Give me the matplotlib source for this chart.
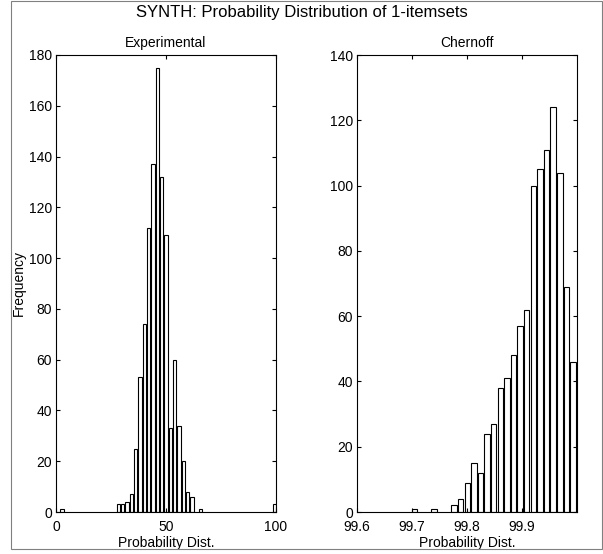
import matplotlib
matplotlib.use('Agg')
import matplotlib.pyplot as plt
from matplotlib.patches import Rectangle

plt.rcParams['font.family'] = ['Liberation Sans', 'DejaVu Sans']
plt.rcParams['font.size'] = 10

# Experimental histogram (only non-empty bins)
exp_centers = [2.70, 28.31, 30.28, 32.25, 34.22, 36.19, 38.16, 40.13, 42.10,
               44.07, 46.04, 48.01, 49.98, 51.95, 53.92, 55.89, 57.86, 59.83,
               61.80, 65.74, 99.23]
exp_counts = [1, 3, 3, 4, 7, 25, 53, 74, 112, 137, 175, 132, 109, 33, 60, 34,
              20, 8, 6, 1, 3]
exp_binwidth = 1.97

# Chernoff histogram (only non-empty bins)
che_centers = [99.7043, 99.7404, 99.7764, 99.7884, 99.8005, 99.8125, 99.8245,
               99.8365, 99.8485, 99.8606, 99.8726, 99.8846, 99.8966, 99.9086,
               99.9207, 99.9327, 99.9447, 99.9567, 99.9687, 99.9808, 99.9928]
che_counts = [1, 1, 2, 4, 9, 15, 12, 24, 27, 38, 41, 48, 57, 62, 100, 105,
              111, 124, 104, 69, 46]
che_binwidth = 0.01202

fig = plt.figure(figsize=(6.03, 5.54), dpi=100)

# grey frame round the figure
fig.patches.append(Rectangle((11 / 603, 5 / 554), 591 / 603, 548 / 554,
                             transform=fig.transFigure, fill=False,
                             edgecolor='#808080', linewidth=0.8))

ax1 = fig.add_axes([56 / 603, 42 / 554, 220 / 603, 457 / 554])
ax2 = fig.add_axes([357 / 603, 42 / 554, 220 / 603, 457 / 554])

ax1.bar(exp_centers, exp_counts, width=0.8 * exp_binwidth, color='white',
        edgecolor='black', linewidth=0.8)
ax1.set_xlim(0, 100)
ax1.set_ylim(0, 180)
ax1.set_xticks([0, 50, 100])
ax1.set_yticks(range(0, 181, 20))
ax1.set_title('Experimental', fontsize=10, pad=6)
ax1.set_ylabel('Frequency', labelpad=2)
ax1.set_xlabel('Probability Dist.', labelpad=1)

ax2.bar(che_centers, che_counts, width=0.83 * che_binwidth, color='white',
        edgecolor='black', linewidth=0.8)
ax2.set_xlim(99.6, 100)
ax2.set_ylim(0, 140)
ax2.set_xticks([99.6, 99.7, 99.8, 99.9])
ax2.set_xticklabels(['99.6', '99.7', '99.8', '99.9'])
ax2.set_yticks(range(0, 141, 20))
ax2.set_title('Chernoff', fontsize=10, pad=6)
ax2.set_xlabel('Probability Dist.', labelpad=1)

for ax in (ax1, ax2):
    ax.tick_params(direction='in', top=True, right=True, length=3,
                   width=0.8, labelsize=10, pad=3)
    ax.tick_params(axis='x', pad=6)
    for s in ax.spines.values():
        s.set_linewidth(0.8)

fig.text(0.5, 1 - 13 / 554, 'SYNTH: Probability Distribution of 1-itemsets',
         ha='center', va='center', fontsize=12)

fig.savefig('out.png', dpi=100)
